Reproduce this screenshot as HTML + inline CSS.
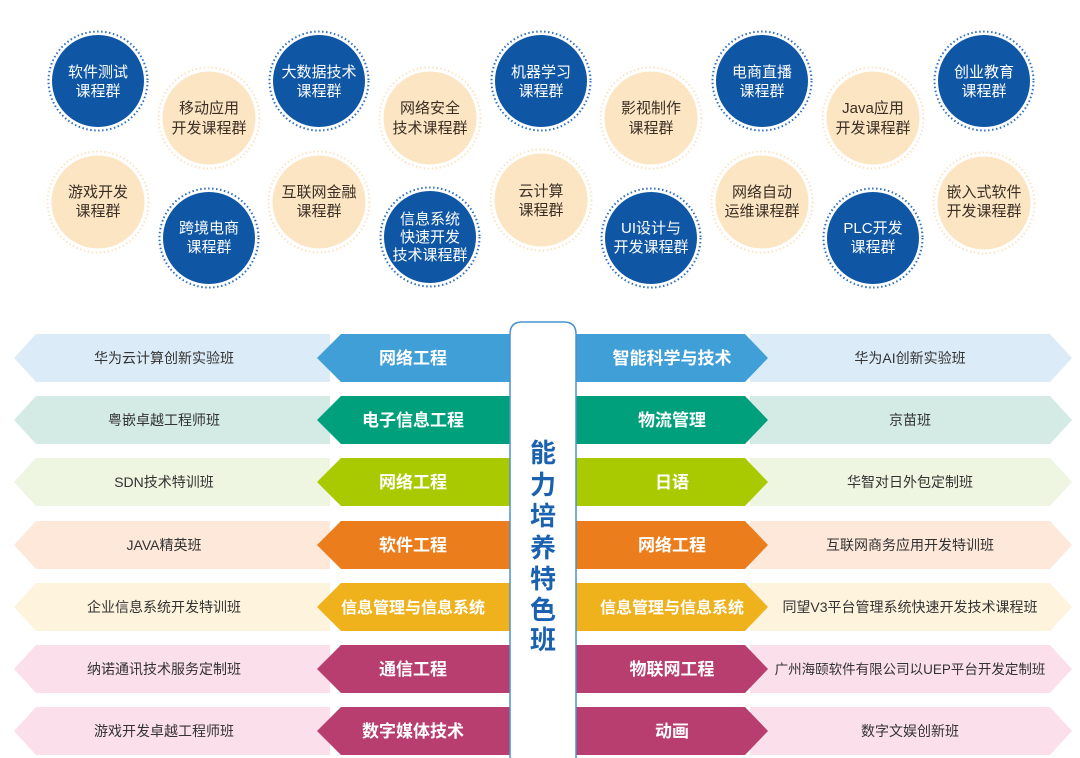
<!DOCTYPE html>
<html><head><meta charset="utf-8"><style>
html,body{margin:0;padding:0;background:#fff;}
svg{display:block;font-family:"Liberation Sans","Noto Sans CJK SC",sans-serif;}
</style></head><body>
<svg width="1080" height="758" viewBox="0 0 1080 758" xmlns="http://www.w3.org/2000/svg">
<rect width="1080" height="758" fill="#fff"/>
<g font-size="15" text-anchor="middle">
<g>
<circle cx="98" cy="81" r="49.5" fill="none" stroke="#2f6fbf" stroke-width="2" stroke-dasharray="1.5 2.5"/><circle cx="98" cy="81" r="46" fill="#0f56a4"/>
<text x="98" y="77" fill="#fff">软件测试</text><text x="98" y="96" fill="#fff">课程群</text>
<circle cx="319" cy="81" r="49.5" fill="none" stroke="#2f6fbf" stroke-width="2" stroke-dasharray="1.5 2.5"/><circle cx="319" cy="81" r="46" fill="#0f56a4"/>
<text x="319" y="77" fill="#fff">大数据技术</text><text x="319" y="96" fill="#fff">课程群</text>
<circle cx="541" cy="81" r="49.5" fill="none" stroke="#2f6fbf" stroke-width="2" stroke-dasharray="1.5 2.5"/><circle cx="541" cy="81" r="46" fill="#0f56a4"/>
<text x="541" y="77" fill="#fff">机器学习</text><text x="541" y="96" fill="#fff">课程群</text>
<circle cx="762" cy="81" r="49.5" fill="none" stroke="#2f6fbf" stroke-width="2" stroke-dasharray="1.5 2.5"/><circle cx="762" cy="81" r="46" fill="#0f56a4"/>
<text x="762" y="77" fill="#fff">电商直播</text><text x="762" y="96" fill="#fff">课程群</text>
<circle cx="984" cy="81" r="49.5" fill="none" stroke="#2f6fbf" stroke-width="2" stroke-dasharray="1.5 2.5"/><circle cx="984" cy="81" r="46" fill="#0f56a4"/>
<text x="984" y="77" fill="#fff">创业教育</text><text x="984" y="96" fill="#fff">课程群</text>

<circle cx="209" cy="238" r="49.5" fill="none" stroke="#2f6fbf" stroke-width="2" stroke-dasharray="1.5 2.5"/><circle cx="209" cy="238" r="46" fill="#0f56a4"/>
<text x="209" y="233" fill="#fff">跨境电商</text><text x="209" y="252" fill="#fff">课程群</text>
<circle cx="430" cy="237" r="49.5" fill="none" stroke="#2f6fbf" stroke-width="2" stroke-dasharray="1.5 2.5"/><circle cx="430" cy="237" r="46" fill="#0f56a4"/>
<text x="430" y="224" fill="#fff">信息系统</text><text x="430" y="242" fill="#fff">快速开发</text><text x="430" y="260" fill="#fff">技术课程群</text>
<circle cx="651" cy="238" r="49.5" fill="none" stroke="#2f6fbf" stroke-width="2" stroke-dasharray="1.5 2.5"/><circle cx="651" cy="238" r="46" fill="#0f56a4"/>
<text x="651" y="233" fill="#fff">UI设计与</text><text x="651" y="252" fill="#fff">开发课程群</text>
<circle cx="873" cy="238" r="49.5" fill="none" stroke="#2f6fbf" stroke-width="2" stroke-dasharray="1.5 2.5"/><circle cx="873" cy="238" r="46" fill="#0f56a4"/>
<text x="873" y="233" fill="#fff">PLC开发</text><text x="873" y="252" fill="#fff">课程群</text>
</g>
<g fill="#3a2e25">
<circle cx="209" cy="118" r="50.5" fill="none" stroke="#fbe3c4" stroke-width="2" stroke-dasharray="1.5 2.5"/><circle cx="209" cy="118" r="46.5" fill="#fce5c3"/>
<text x="209" y="113">移动应用</text><text x="209" y="133">开发课程群</text>
<circle cx="430" cy="118" r="50.5" fill="none" stroke="#fbe3c4" stroke-width="2" stroke-dasharray="1.5 2.5"/><circle cx="430" cy="118" r="46.5" fill="#fce5c3"/>
<text x="430" y="113">网络安全</text><text x="430" y="133">技术课程群</text>
<circle cx="651" cy="118" r="50.5" fill="none" stroke="#fbe3c4" stroke-width="2" stroke-dasharray="1.5 2.5"/><circle cx="651" cy="118" r="46.5" fill="#fce5c3"/>
<text x="651" y="113">影视制作</text><text x="651" y="133">课程群</text>
<circle cx="873" cy="118" r="50.5" fill="none" stroke="#fbe3c4" stroke-width="2" stroke-dasharray="1.5 2.5"/><circle cx="873" cy="118" r="46.5" fill="#fce5c3"/>
<text x="873" y="113">Java应用</text><text x="873" y="133">开发课程群</text>

<circle cx="98" cy="202" r="50.5" fill="none" stroke="#fbe3c4" stroke-width="2" stroke-dasharray="1.5 2.5"/><circle cx="98" cy="202" r="46.5" fill="#fce5c3"/>
<text x="98" y="197">游戏开发</text><text x="98" y="216">课程群</text>
<circle cx="319" cy="202" r="50.5" fill="none" stroke="#fbe3c4" stroke-width="2" stroke-dasharray="1.5 2.5"/><circle cx="319" cy="202" r="46.5" fill="#fce5c3"/>
<text x="319" y="197">互联网金融</text><text x="319" y="216">课程群</text>
<circle cx="541" cy="200" r="50.5" fill="none" stroke="#fbe3c4" stroke-width="2" stroke-dasharray="1.5 2.5"/><circle cx="541" cy="200" r="46.5" fill="#fce5c3"/>
<text x="541" y="196">云计算</text><text x="541" y="215">课程群</text>
<circle cx="762" cy="202" r="50.5" fill="none" stroke="#fbe3c4" stroke-width="2" stroke-dasharray="1.5 2.5"/><circle cx="762" cy="202" r="46.5" fill="#fce5c3"/>
<text x="762" y="197">网络自动</text><text x="762" y="216">运维课程群</text>
<circle cx="984" cy="203" r="50.5" fill="none" stroke="#fbe3c4" stroke-width="2" stroke-dasharray="1.5 2.5"/><circle cx="984" cy="203" r="46.5" fill="#fce5c3"/>
<text x="984" y="197">嵌入式软件</text><text x="984" y="216">开发课程群</text>
</g>
</g>

<g text-anchor="middle">
<g transform="translate(0,334)">
<polygon points="36,0 330,0 330,48 36,48 14,24" fill="#dcebf8"/>
<polygon points="750,0 1050,0 1072,24 1050,48 750,48" fill="#dcebf8"/>
<polygon points="341,0 512,0 512,48 341,48 317,24" fill="#419fd7"/>
<polygon points="574,0 745,0 768,24 745,48 574,48" fill="#419fd7"/>
<text x="164" y="29" font-size="14" fill="#333">华为云计算创新实验班</text>
<text x="413" y="30" font-size="17" font-weight="bold" fill="#fff">网络工程</text>
<text x="672" y="30" font-size="17" font-weight="bold" fill="#fff">智能科学与技术</text>
<text x="910" y="29" font-size="14" fill="#333">华为AI创新实验班</text>
</g>
<g transform="translate(0,396)">
<polygon points="36,0 330,0 330,48 36,48 14,24" fill="#d4eae5"/>
<polygon points="750,0 1050,0 1072,24 1050,48 750,48" fill="#d4eae5"/>
<polygon points="341,0 512,0 512,48 341,48 317,24" fill="#00a07d"/>
<polygon points="574,0 745,0 768,24 745,48 574,48" fill="#00a07d"/>
<text x="164" y="29" font-size="14" fill="#333">粤嵌卓越工程师班</text>
<text x="413" y="30" font-size="17" font-weight="bold" fill="#fff">电子信息工程</text>
<text x="672" y="30" font-size="17" font-weight="bold" fill="#fff">物流管理</text>
<text x="910" y="29" font-size="14" fill="#333">京苗班</text>
</g>
<g transform="translate(0,458)">
<polygon points="36,0 330,0 330,48 36,48 14,24" fill="#eef5e0"/>
<polygon points="750,0 1050,0 1072,24 1050,48 750,48" fill="#eef5e0"/>
<polygon points="341,0 512,0 512,48 341,48 317,24" fill="#a9ca00"/>
<polygon points="574,0 745,0 768,24 745,48 574,48" fill="#a9ca00"/>
<text x="164" y="29" font-size="14" fill="#333">SDN技术特训班</text>
<text x="413" y="30" font-size="17" font-weight="bold" fill="#fff">网络工程</text>
<text x="672" y="30" font-size="17" font-weight="bold" fill="#fff">日语</text>
<text x="910" y="29" font-size="14" fill="#333">华智对日外包定制班</text>
</g>
<g transform="translate(0,521)">
<polygon points="36,0 330,0 330,48 36,48 14,24" fill="#fde8d9"/>
<polygon points="750,0 1050,0 1072,24 1050,48 750,48" fill="#fde8d9"/>
<polygon points="341,0 512,0 512,48 341,48 317,24" fill="#eb7d1c"/>
<polygon points="574,0 745,0 768,24 745,48 574,48" fill="#eb7d1c"/>
<text x="164" y="29" font-size="14" fill="#333">JAVA精英班</text>
<text x="413" y="30" font-size="17" font-weight="bold" fill="#fff">软件工程</text>
<text x="672" y="30" font-size="17" font-weight="bold" fill="#fff">网络工程</text>
<text x="910" y="29" font-size="14" fill="#333">互联网商务应用开发特训班</text>
</g>
<g transform="translate(0,583)">
<polygon points="36,0 330,0 330,48 36,48 14,24" fill="#fef3dc"/>
<polygon points="750,0 1050,0 1072,24 1050,48 750,48" fill="#fef3dc"/>
<polygon points="341,0 512,0 512,48 341,48 317,24" fill="#efb21c"/>
<polygon points="574,0 745,0 768,24 745,48 574,48" fill="#efb21c"/>
<text x="164" y="29" font-size="14" fill="#333">企业信息系统开发特训班</text>
<text x="413" y="30" font-size="16" font-weight="bold" fill="#fff">信息管理与信息系统</text>
<text x="672" y="30" font-size="16" font-weight="bold" fill="#fff">信息管理与信息系统</text>
<text x="910" y="29" font-size="14" fill="#333">同望V3平台管理系统快速开发技术课程班</text>
</g>
<g transform="translate(0,645)">
<polygon points="36,0 330,0 330,48 36,48 14,24" fill="#fbdfeb"/>
<polygon points="750,0 1050,0 1072,24 1050,48 750,48" fill="#fbdfeb"/>
<polygon points="341,0 512,0 512,48 341,48 317,24" fill="#b83e6f"/>
<polygon points="574,0 745,0 768,24 745,48 574,48" fill="#b83e6f"/>
<text x="164" y="29" font-size="14" fill="#333">纳诺通讯技术服务定制班</text>
<text x="413" y="30" font-size="17" font-weight="bold" fill="#fff">通信工程</text>
<text x="672" y="30" font-size="17" font-weight="bold" fill="#fff">物联网工程</text>
<text x="910" y="29" font-size="13.5" fill="#333">广州海颐软件有限公司以UEP平台开发定制班</text>
</g>
<g transform="translate(0,707)">
<polygon points="36,0 330,0 330,48 36,48 14,24" fill="#fbdfeb"/>
<polygon points="750,0 1050,0 1072,24 1050,48 750,48" fill="#fbdfeb"/>
<polygon points="341,0 512,0 512,48 341,48 317,24" fill="#b83e6f"/>
<polygon points="574,0 745,0 768,24 745,48 574,48" fill="#b83e6f"/>
<text x="164" y="29" font-size="14" fill="#333">游戏开发卓越工程师班</text>
<text x="413" y="30" font-size="17" font-weight="bold" fill="#fff">数字媒体技术</text>
<text x="672" y="30" font-size="17" font-weight="bold" fill="#fff">动画</text>
<text x="910" y="29" font-size="14" fill="#333">数字文娱创新班</text>
</g>
</g>

<path d="M510,760 L510,334 Q510,322 522,322 L564,322 Q576,322 576,334 L576,760" fill="#fff" stroke="#4a90d0" stroke-width="1.5"/>
<g font-size="26" font-weight="bold" fill="#1a62b0" text-anchor="middle">
<text x="543" y="462">能</text>
<text x="543" y="494">力</text>
<text x="543" y="525">培</text>
<text x="543" y="557">养</text>
<text x="543" y="588">特</text>
<text x="543" y="619">色</text>
<text x="543" y="649">班</text>
</g>
</svg>
</body></html>
